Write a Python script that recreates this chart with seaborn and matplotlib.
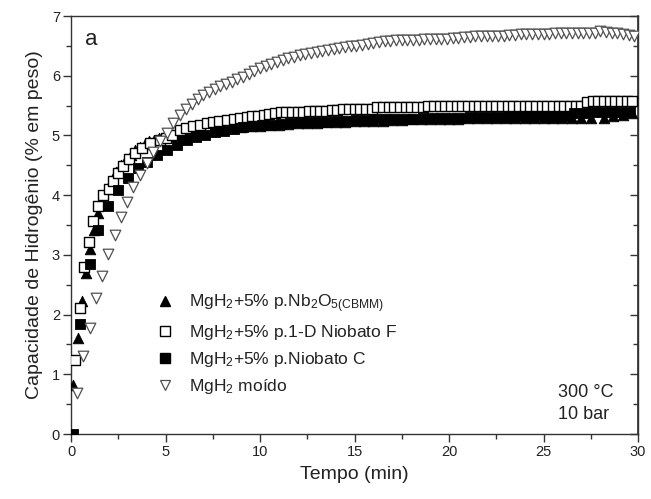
import matplotlib
matplotlib.use("Agg")
import matplotlib.pyplot as plt
import seaborn as sns
import pandas as pd
from matplotlib.lines import Line2D
from matplotlib.ticker import MultipleLocator

# ---------------- data ----------------
t_nb = [0.12, 0.39, 0.57, 0.79, 1.0, 1.2, 1.43, 1.65, 1.9, 2.15, 2.4, 2.65, 2.9, 3.15, 3.4, 3.65, 3.9, 4.15, 4.4, 4.65, 4.9,
        5.2, 5.5, 5.8, 6.1, 6.4, 6.7, 7.0,
        7.5, 8.0, 8.5, 9.0, 9.5, 10.0, 10.5, 11.0, 11.5, 12.0,
        12.5, 13.0, 13.5, 14.0, 14.5, 15.0, 15.5, 16.0, 16.5, 17.0,
        17.5, 18.0, 18.5, 19.0, 19.5, 20.0, 20.5, 21.0, 21.5, 22.0,
        22.5, 23.0, 23.5, 24.0, 24.5, 25.0, 25.5, 26.0, 26.5, 27.0,
        27.5, 28.2, 28.7, 29.2, 29.7]
y_nb = [0.82, 1.61, 2.22, 2.69, 3.10, 3.42, 3.70, 3.92, 4.10, 4.25, 4.38, 4.50, 4.60, 4.68, 4.75, 4.81, 4.86, 4.90, 4.93, 4.96, 4.98,
        5.00, 5.01, 5.02, 5.03, 5.04, 5.05, 5.06,
        5.08, 5.10, 5.12, 5.14, 5.15, 5.16, 5.17, 5.18, 5.19, 5.20,
        5.21, 5.21, 5.22, 5.23, 5.23, 5.24, 5.24, 5.25, 5.25, 5.26,
        5.26, 5.27, 5.27, 5.27, 5.28, 5.28, 5.28, 5.29, 5.29, 5.29,
        5.29, 5.29, 5.30, 5.30, 5.30, 5.30, 5.30, 5.30, 5.30, 5.29,
        5.30, 5.29, 5.33, 5.35, 5.37]

t_f = [0.21, 0.48, 0.69, 0.97, 1.18, 1.45, 1.71, 2.03, 2.24, 2.5, 2.77, 3.05, 3.39, 3.74, 4.18, 4.7, 5.0, 5.33, 5.77,
       6.1, 6.46, 6.8, 7.18, 7.5, 7.85, 8.24, 8.6, 8.95, 9.3,
       9.6, 9.9, 10.2, 10.5, 10.8, 11.1, 11.4, 11.7, 12.0, 12.3,
       12.6, 12.9, 13.2, 13.5, 13.8, 14.1, 14.4, 14.7, 15.0, 15.3,
       15.6, 15.9, 16.2, 16.5, 16.8, 17.1, 17.4, 17.7, 18.0, 18.3,
       18.6, 18.9, 19.2, 19.5, 19.8, 20.1, 20.4, 20.7, 21.0, 21.3,
       21.6, 21.9, 22.2, 22.5, 22.8, 23.1, 23.4, 23.7, 24.0, 24.3,
       24.6, 24.9, 25.2, 25.5, 25.8, 26.1, 26.4, 26.7, 27.0, 27.3,
       27.6, 27.9, 28.2, 28.5, 28.8, 29.1, 29.4, 29.7]
y_f = [1.24, 2.11, 2.80, 3.22, 3.56, 3.81, 4.00, 4.11, 4.23, 4.37, 4.48, 4.60, 4.70, 4.79, 4.87, 4.92, 4.96, 5.00, 5.09,
       5.12, 5.16, 5.18, 5.20, 5.22, 5.24, 5.26, 5.28, 5.30, 5.31,
       5.32, 5.33, 5.34, 5.36, 5.38, 5.39, 5.39, 5.40, 5.40, 5.40,
       5.41, 5.41, 5.41, 5.41, 5.42, 5.43, 5.44, 5.44, 5.44, 5.44,
       5.45, 5.45, 5.47, 5.47, 5.47, 5.47, 5.47, 5.47, 5.47, 5.48,
       5.48, 5.49, 5.49, 5.49, 5.49, 5.49, 5.49, 5.49, 5.49, 5.49,
       5.49, 5.49, 5.49, 5.49, 5.49, 5.49, 5.49, 5.49, 5.49, 5.49,
       5.49, 5.49, 5.49, 5.49, 5.49, 5.50, 5.50, 5.50, 5.50, 5.56,
       5.57, 5.57, 5.57, 5.57, 5.57, 5.57, 5.57, 5.57]

t_c = [0.1, 0.48, 1.0, 1.45, 1.97, 2.5, 3.03, 3.56, 4.0, 4.53, 5.06, 5.59, 6.12, 6.6, 7.1, 7.6, 8.1, 8.6, 9.1, 9.6,
       10.1, 10.6, 11.1, 11.6, 12.1, 12.6, 13.1, 13.6, 14.1, 14.6,
       15.1, 15.6, 16.1, 16.6, 17.1, 17.6, 18.1, 18.6, 19.1, 19.6,
       20.1, 20.6, 21.1, 21.6, 22.1, 22.6, 23.1, 23.6, 24.1, 24.6,
       25.1, 25.6, 26.1, 26.6, 27.1, 27.6, 28.1, 28.6, 29.1, 29.6]
y_c = [0.00, 1.84, 2.85, 3.42, 3.82, 4.09, 4.28, 4.45, 4.56, 4.67, 4.76, 4.84, 4.92, 4.97, 5.01, 5.05, 5.08, 5.11, 5.14, 5.16,
       5.17, 5.18, 5.19, 5.21, 5.22, 5.22, 5.23, 5.23, 5.24, 5.25,
       5.26, 5.26, 5.27, 5.27, 5.27, 5.28, 5.28, 5.29, 5.29, 5.30,
       5.30, 5.30, 5.31, 5.31, 5.31, 5.31, 5.32, 5.32, 5.32, 5.32,
       5.33, 5.33, 5.33, 5.38, 5.38, 5.39, 5.39, 5.40, 5.40, 5.40]

t_m = [0.3, 0.65, 1.0, 1.3, 1.62, 1.97, 2.33, 2.65, 2.95, 3.3, 3.65, 4.0, 4.36, 4.7, 5.06, 5.41, 5.77,
       6.1, 6.4, 6.7, 7.0, 7.3, 7.6, 7.9, 8.2, 8.5, 8.8, 9.1, 9.4, 9.7,
       10.0, 10.3, 10.6, 10.9, 11.2, 11.5, 11.8, 12.1, 12.4, 12.7,
       13.0, 13.3, 13.6, 13.9, 14.2, 14.5, 14.8, 15.1, 15.4, 15.7,
       16.0, 16.3, 16.6, 16.9, 17.2, 17.5, 17.8, 18.1, 18.4, 18.7,
       19.0, 19.3, 19.6, 19.9, 20.2, 20.5, 20.8, 21.1, 21.4, 21.7,
       22.0, 22.3, 22.6, 22.9, 23.2, 23.5, 23.8, 24.1, 24.4, 24.7,
       25.0, 25.3, 25.6, 25.9, 26.2, 26.5, 26.8, 27.1, 27.4, 27.7,
       28.0, 28.3, 28.6, 28.9, 29.2, 29.5, 29.8]
y_m = [0.68, 1.30, 1.77, 2.27, 2.65, 3.01, 3.33, 3.63, 3.89, 4.14, 4.34, 4.53, 4.73, 4.90, 5.04, 5.20, 5.34,
       5.45, 5.53, 5.61, 5.67, 5.72, 5.77, 5.82, 5.86, 5.90, 5.94, 5.98, 6.03, 6.08,
       6.13, 6.17, 6.20, 6.23, 6.27, 6.30, 6.32, 6.34, 6.36, 6.38,
       6.39, 6.41, 6.43, 6.45, 6.46, 6.48, 6.49, 6.50, 6.52, 6.53,
       6.55, 6.57, 6.58, 6.58, 6.59, 6.59, 6.60, 6.60, 6.60, 6.61,
       6.61, 6.61, 6.62, 6.62, 6.63, 6.63, 6.64, 6.65, 6.66, 6.66,
       6.66, 6.67, 6.67, 6.67, 6.68, 6.69, 6.70, 6.70, 6.70, 6.70,
       6.70, 6.70, 6.71, 6.71, 6.71, 6.71, 6.71, 6.71, 6.71, 6.72,
       6.75, 6.74, 6.72, 6.71, 6.70, 6.69, 6.67]

labels = ["MgH$_2$+5% p.Nb$_2$O$_{5(CBMM)}$",
          "MgH$_2$+5% p.1-D Niobato F",
          "MgH$_2$+5% p.Niobato C",
          "MgH$_2$ moído"]
x_ticks = [0, 5, 10, 15, 20, 25, 30]
y_ticks = [0, 1, 2, 3, 4, 5, 6, 7]

# ---------------- style ----------------
sns.set_theme(style="ticks")
plt.rcParams["font.family"] = ["Liberation Sans", "DejaVu Sans"]
plt.rcParams["mathtext.default"] = "regular"
TXT = "#222222"

fig = plt.figure(figsize=(6.51, 4.99), dpi=100)
ax = fig.add_axes([71 / 651, 1 - 434 / 499, 567 / 651, 418 / 499])

series = [
    (t_nb, y_nb, "^", "black", "black", 58, 0.6),
    (t_f, y_f, "s", "white", "black", 44, 1.0),
    (t_c, y_c, "s", "black", "black", 44, 0.6),
    (t_m, y_m, "v", "white", "#505050", 58, 0.9),
]
for i, (tx, ty, mk, fc, ec, s, lw) in enumerate(series):
    df = pd.DataFrame({"t": tx, "y": ty})
    sns.scatterplot(data=df, x="t", y="y", marker=mk, s=s, color=fc,
                    edgecolor=ec, linewidth=lw, ax=ax, zorder=3 + i,
                    legend=False)

ax.set_xlim(0, 30)
ax.set_ylim(0, 7)
ax.set_xticks(x_ticks)
ax.set_yticks(y_ticks)
ax.xaxis.set_minor_locator(MultipleLocator(2.5))
ax.yaxis.set_minor_locator(MultipleLocator(0.5))
ax.tick_params(which="major", direction="out", length=6, width=1,
               labelsize=10.5, labelcolor=TXT, color="#333333", pad=2)
ax.tick_params(which="minor", direction="out", length=3.5, width=1,
               color="#333333")
for sp in ax.spines.values():
    sp.set_color("#333333")
    sp.set_linewidth(1.0)

ax2 = ax.secondary_yaxis("right")
ax2.set_yticks(y_ticks)
ax2.yaxis.set_minor_locator(MultipleLocator(0.5))
ax2.tick_params(which="major", direction="in", length=6, width=1,
                labelright=False, color="#333333")
ax2.tick_params(which="minor", direction="in", length=3.5, width=1,
                color="#333333")
ax2.spines["right"].set_color("#333333")

ax.set_xlabel("Tempo (min)", fontsize=14, color=TXT, labelpad=5)
ax.set_ylabel("Capacidade de Hidrogênio (% em peso)", fontsize=14,
              color=TXT, labelpad=6)

handles = [
    Line2D([], [], ls="none", marker="^", ms=7.6, mfc="black", mec="black"),
    Line2D([], [], ls="none", marker="s", ms=6.6, mfc="white", mec="black", mew=1.0),
    Line2D([], [], ls="none", marker="s", ms=6.6, mfc="black", mec="black"),
    Line2D([], [], ls="none", marker="v", ms=7.6, mfc="white", mec="#505050", mew=0.9),
]
ax.legend(handles, labels, loc="upper left", bbox_to_anchor=(0.138, 0.355),
          frameon=False, fontsize=12.5, handlelength=1.0, handletextpad=0.9,
          labelspacing=0.45, borderaxespad=0, labelcolor=TXT)

ax.text(0.024, 0.931, "a", transform=ax.transAxes, fontsize=16,
        color=TXT, ha="left", va="baseline")
ax.text(0.859, 0.0885, "300 °C", transform=ax.transAxes, fontsize=13,
        color=TXT, ha="left", va="baseline")
ax.text(0.859, 0.036, "10 bar", transform=ax.transAxes, fontsize=13,
        color=TXT, ha="left", va="baseline")

fig.savefig("out.png", dpi=100)
